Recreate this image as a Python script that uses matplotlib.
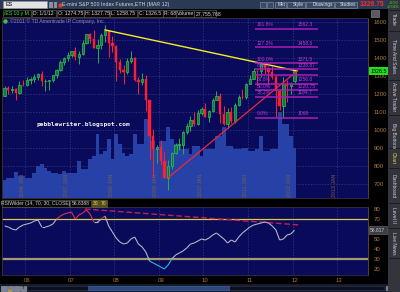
import numpy as np
import matplotlib
matplotlib.use("Agg")
import matplotlib.pyplot as plt
import matplotlib.transforms as mtransforms
from matplotlib.collections import LineCollection
from matplotlib.patches import Rectangle

# ---------------- data (monthly /ES, Jul 2005 .. Jan 2012) ----------------
opens = [1191, 1234, 1220, 1229, 1207, 1249,
         1248, 1280, 1281, 1295, 1311, 1270, 1270, 1277, 1304, 1336, 1378, 1401,
         1418, 1438, 1407, 1421, 1482, 1531, 1503, 1455, 1474, 1527, 1549, 1481,
         1468, 1379, 1331, 1323, 1386, 1400, 1280, 1267, 1283, 1166, 969, 896,
         903, 826, 735, 798, 873, 919, 919, 987, 1021, 1057, 1036, 1096,
         1115, 1074, 1104, 1169, 1187, 1089, 1031, 1102, 1049, 1141, 1183, 1181,
         1258, 1286, 1327, 1326, 1364, 1345, 1321, 1292, 1219, 1131, 1253, 1247,
         1274.75]
highs = [1246, 1245, 1243, 1233, 1270, 1276,
         1295, 1297, 1311, 1318, 1326, 1284, 1280, 1308, 1340, 1389, 1407, 1432,
         1441, 1462, 1438, 1499, 1535, 1541, 1556, 1503, 1539, 1586, 1555, 1524,
         1472, 1396, 1359, 1398, 1440, 1405, 1292, 1314, 1303, 1167, 1007, 918,
         943, 875, 832, 878, 930, 957, 996, 1039, 1080, 1101, 1113, 1130,
         1150, 1113, 1180, 1219, 1205, 1131, 1120, 1129, 1148, 1196, 1227, 1262,
         1303, 1344, 1333, 1366, 1370, 1346, 1357, 1308, 1230, 1293, 1278, 1269,
         1327.75]
lows = [1190, 1201, 1205, 1169, 1201, 1246,
        1245, 1253, 1268, 1280, 1245, 1219, 1224, 1264, 1290, 1327, 1360, 1385,
        1403, 1389, 1364, 1416, 1476, 1484, 1454, 1370, 1451, 1489, 1406, 1435,
        1270, 1316, 1256, 1311, 1373, 1272, 1200, 1248, 1106, 840, 741, 815,
        805, 735, 666, 783, 866, 888, 869, 979, 992, 1020, 1029, 1086,
        1071, 1045, 1102, 1165, 1040, 1029, 1011, 1040, 1040, 1131, 1173, 1174,
        1255, 1285, 1249, 1294, 1312, 1258, 1282, 1074, 1112, 1068, 1158, 1202,
        1258.75]
closes = [1234, 1220, 1229, 1207, 1249, 1248,
          1280, 1281, 1295, 1311, 1270, 1270, 1277, 1304, 1336, 1378, 1401, 1418,
          1438, 1407, 1421, 1482, 1531, 1503, 1455, 1474, 1527, 1549, 1481, 1468,
          1379, 1331, 1323, 1386, 1400, 1280, 1267, 1283, 1166, 969, 896, 903,
          826, 735, 798, 873, 919, 919, 987, 1021, 1057, 1036, 1096, 1115,
          1074, 1104, 1169, 1187, 1089, 1031, 1102, 1049, 1141, 1183, 1181, 1258,
          1286, 1327, 1326, 1364, 1345, 1321, 1292, 1219, 1131, 1253, 1247, 1258,
          1326.5]
volume_m = [9.7, 11.3, 11.3, 14.6, 11.9, 11.9,
            11.3, 10.8, 14.0, 17.8, 18.9, 16.7, 15.1, 14.0, 14.0, 13.5, 15.1, 14.0,
            14.0, 14.0, 20.5, 16.2, 16.2, 21.6, 23.2, 35.1, 24.3, 25.9, 32.4, 21.6,
            35.1, 29.7, 24.8, 23.2, 24.3, 35.1, 29.7, 29.7, 43.7, 35.6, 31.3, 27.0,
            31.3, 31.3, 39.4, 32.4, 29.7, 29.7, 27.0, 27.0, 24.3, 28.6, 28.6, 23.2,
            27.0, 27.0, 27.0, 34.0, 34.0, 38.9, 28.6, 28.6, 27.0, 27.0, 27.5, 27.5,
            25.9, 25.9, 27.0, 34.0, 25.9, 25.9, 27.0, 27.0, 47.5, 41.0, 41.0, 34.0,
            27.8]
rsi = [63, 62, 60, 59, 62, 64,
       65, 66, 68, 69, 62, 62, 63, 65, 70, 73, 75, 76,
       77, 70, 74, 76, 79, 75, 67, 67, 70, 73, 63, 57,
       51, 47, 45, 46, 50, 52, 45, 42, 37, 28, 26, 24,
       22, 20, 24, 30, 34, 36, 38, 41, 45, 46, 48, 50,
       49, 51, 54, 56, 53, 50, 46, 49, 47, 52, 56, 59,
       62, 64, 65, 66, 67, 66, 63, 59, 49, 50, 54, 55,
       58.8]
year_labels = ["06", "07", "08", "09", "10", "11", "12", "13"]
year_start_idx = [6, 18, 30, 42, 54, 66, 78, 90]
grid_labels = ["2006 JAN", "2007 JAN", "2008 JAN", "2009 JAN", "2010 JAN",
               "2011 JAN", "2012 JAN", "2013 JAN"]
price_ticks = [700, 800, 900, 1000, 1100, 1200, 1300, 1400, 1500, 1600]
rsi_ticks = [20, 30, 40, 50, 70, 80]
fib_pct = ["161.8%", "127.2%", "100.0%", "88.6%", "78.6%", "61.8%", "50.0%", "38.2%", "0.0%"]
fib_val = [1562.3, 1458.6, 1371.5, 1338.87, 1306.5, 1256.8, 1220.75, 1184.7, 1068]
fib_show = [True, True, True, True, False, True, True, True, True]
fib_span = [67.4, 84.3]
yellow_x, yellow_p = [27, 78.7], [1556, 1328]
red_x, red_p = [44, 78.7], [735, 1328]
rsi_div_x, rsi_div_v = [21.6, 79.5], [80, 64]
header_fields = [("/ES 10 y M", 3, 31), ("D: 1/1/12", 32, 56), ("O: 1274.75", 57, 84),
                 ("H: 1327.75", 84, 109), ("L: 1258.75", 110, 137), ("C: 1326.5", 138, 163),
                 ("R: 68", 163, 176), ("Volume", 176, 194), ("27,755,768", 194, 216)]

opens, highs, lows, closes = map(np.asarray, (opens, highs, lows, closes))
volume_m, rsi = np.asarray(volume_m), np.asarray(rsi, dtype=float)
n = len(closes)
x = np.arange(n)

plt.rcParams['font.family'] = ['Liberation Sans', 'DejaVu Sans']

W, H = 400, 292
fig = plt.figure(figsize=(4, 2.92), dpi=100, facecolor='#000000')
def rect(x0, y0, x1, y1):
    return [x0 / W, 1 - y1 / H, (x1 - x0) / W, (y1 - y0) / H]

NAVY = '#0a0a5a'
TAN = '#a87c44'
XLIM = (-0.7, 97.77)
PTOP, PBOT = 17.5, 198

# ---------------- main price panel ----------------
axv = fig.add_axes(rect(2, PTOP, 368, PBOT), zorder=1)
axv.set_facecolor(NAVY)
axv.bar(x, volume_m, width=1.0, color='#2641a8', linewidth=0)
axv.set_xlim(*XLIM); axv.set_ylim(0, 99.5)
axv.set_xticks([]); axv.set_yticks([])
for s in axv.spines.values():
    s.set_visible(False)

ax = fig.add_axes(rect(2, PTOP, 368, PBOT), zorder=2)
ax.set_facecolor('none')
ax.set_xlim(*XLIM); ax.set_ylim(622.2, 1625)
ax.set_yticks(price_ticks)
ax.yaxis.tick_right()
ax.tick_params(axis='y', colors=TAN, labelsize=4.3, length=0, pad=4)
ax.set_xticks([p - 0.5 for p in year_start_idx])
ax.tick_params(axis='x', length=0, labelbottom=False)
ax.grid(True, color='#3a3a82', lw=0.5, ls=(0, (2, 2)), zorder=0)
for s in ax.spines.values():
    s.set_color('#3a3040'); s.set_linewidth(0.6)
ax.spines['right'].set_color('#6a5030')

for lbl, p in zip(grid_labels, year_start_idx):
    ax.text(p - 0.6, 628, lbl, rotation=90, ha='right', va='bottom',
            fontsize=3.8, color='#7a6040', zorder=1, clip_on=True)

up = closes >= opens
wick_col = np.where(up, '#22b04a', '#ff2030')
ax.vlines(x, lows, highs, colors=wick_col, lw=0.7, zorder=3)
bb = np.minimum(opens, closes)
bh = np.maximum(np.abs(closes - opens), 1.5)
ax.bar(x[up], bh[up], bottom=bb[up], width=0.62, color='#137a33',
       edgecolor='#2fc35a', lw=0.5, zorder=4)
ax.bar(x[~up], bh[~up], bottom=bb[~up], width=0.62, color='#ff1e2e',
       edgecolor='#ff1e2e', lw=0.3, zorder=4)

ax.plot(yellow_x, yellow_p, color='#f2ee26', lw=1.0, zorder=5)
ax.plot(red_x, red_p, color='#f02838', lw=0.9, zorder=5)

for pct, val, show in zip(fib_pct, fib_val, fib_show):
    ax.plot(fib_span, [val, val], color='#a81fb0', lw=1.1, zorder=5, solid_capstyle='butt')
    if show:
        ax.text(fib_span[0] + 0.5, val + 8, pct, fontsize=3.6, color='#c23ad0',
                ha='left', va='bottom', zorder=6)
        ax.text(fib_span[0] + 11.4, val + 8, f"{val:g}", fontsize=3.6, color='#c23ad0',
                ha='left', va='bottom', zorder=6)

ax.text(8.45, 1033, "pebblewriter.blogspot.com", family='DejaVu Sans Mono',
        fontsize=4.4, color='#f4f4f4', fontweight='bold', ha='left', va='center', zorder=6)
cy = (PBOT - 21) / (PBOT - PTOP)
ax.text(0.021, cy, "\u00a92011 \u00a9 TD Ameritrade IP Company, Inc.", transform=ax.transAxes,
        fontsize=3.7, color='#8e8ea8', ha='left', va='center', zorder=6)
ax.plot([0.009], [cy], transform=ax.transAxes, marker='o', ms=2.2, color='#40c040',
        clip_on=False, zorder=6)

bt = mtransforms.blended_transform_factory(ax.transAxes, ax.transData)
ax.text(1.006, closes[-1], f"{closes[-1]:g}", transform=bt, fontsize=3.9, color='#000000',
        ha='left', va='center', zorder=7,
        bbox=dict(boxstyle='square,pad=0.25', fc='#22dd22', ec='#22dd22', lw=0))

# ---------------- RSI panel ----------------
ax2 = fig.add_axes(rect(2, 207, 368, 275), zorder=2)
ax2.set_facecolor(NAVY)
ax2.set_xlim(*XLIM); ax2.set_ylim(14, 82)
ax2.set_yticks(rsi_ticks)
ax2.yaxis.tick_right()
ax2.tick_params(axis='y', colors=TAN, labelsize=4.3, length=0, pad=4)
ax2.set_xticks([p - 0.5 for p in year_start_idx])
ax2.set_xticklabels([])
ax2.set_xticks(year_start_idx, minor=True)
ax2.set_xticklabels(year_labels, minor=True)
ax2.tick_params(axis='x', which='both', length=0, colors=TAN, labelsize=4.3, pad=2.5)
ax2.grid(True, axis='x', which='major', color='#3a3a82', lw=0.5, ls=(0, (2, 2)))
ax2.grid(False, axis='y')
for s in ax2.spines.values():
    s.set_color('#3a3040'); s.set_linewidth(0.6)
ax2.spines['right'].set_color('#6a5030')

ax2.axhline(70, color='#d8c84a', lw=0.9, zorder=2)
ax2.axhline(30, color='#a49a72', lw=1.6, zorder=2)
ax2.plot(rsi_div_x, rsi_div_v, color='#c4204e', lw=1.0, ls=(0, (4, 2)), zorder=3)

pts = np.column_stack([x, rsi])
segs = np.stack([pts[:-1], pts[1:]], axis=1)
mid = (rsi[:-1] + rsi[1:]) / 2
seg_cols = ['#e0304a' if m > 70 else ('#20c0d4' if m < 30 else '#b4b4c8') for m in mid]
ax2.add_collection(LineCollection(segs, colors=seg_cols, linewidths=0.8, zorder=4))
bt2 = mtransforms.blended_transform_factory(ax2.transAxes, ax2.transData)
ax2.text(1.006, rsi[-1], "58.817", transform=bt2, fontsize=3.6, color='#c8c8c8',
         ha='left', va='center', zorder=7,
         bbox=dict(boxstyle='square,pad=0.25', fc='#3c3c44', ec='#707070', lw=0.4))

# ---------------- window chrome ----------------
ov = fig.add_axes([0, 0, 1, 1], zorder=10)
ov.set_xlim(0, W); ov.set_ylim(H, 0); ov.axis('off')
ov.patch.set_alpha(0)
def box(x0, y0, x1, y1, fc, ec='none', lw=0.4):
    ov.add_patch(Rectangle((x0, y0), x1 - x0, y1 - y0, fc=fc, ec=ec, lw=lw))

# top toolbar
box(0, 0, 388, 9.3, '#2a3a55')
box(3, 1.3, 47, 8.2, '#e2e2e2', '#9090a0')
ov.text(5, 4.9, "ES", fontsize=3.9, color='#000000', va='center')
box(48.5, 2, 52.5, 7.5, '#8890a0'); box(53.5, 2, 57, 7.5, '#8890a0')
ov.plot([59.5], [4.8], marker='o', ms=2.2, color='#e04020')
ov.text(62, 4.9, "E-mini S&P 500 Index Futures,ETH (MAR 12)", fontsize=3.8,
        color='#d4d4dc', va='center')
for bx0, bx1, t in [(260, 266, ""), (267, 273, ""), (275, 286, "Mkt"), (287, 305, "Style"),
                    (306, 334, "Drawings"), (335, 357, "Studies")]:
    box(bx0, 1.5, bx1, 8, '#3a4964', '#8a98b0')
    if t:
        ov.text(bx1 - 1, 4.9, t, fontsize=3.5, color='#e0e0e8', va='center', ha='right')
ov.text(371.5, 4.8, "1326.75", fontsize=4.9, color='#ff2a2a', fontweight='bold',
        va='center', ha='center')
ov.text(393.5, 2.5, "+0.50", fontsize=2.7, color='#40e040', va='center', ha='center')
ov.text(393.5, 6.8, "+0.04%", fontsize=2.7, color='#40e040', va='center', ha='center')

# data header row
box(0, 9.3, 388, PTOP, '#000000')
for i, (t, x0, x1) in enumerate(header_fields):
    box(x0, 9.8, x1, 16.8, '#060606', '#6a6a6a')
    ov.text(x0 + 1.3, 13.4, t, fontsize=3.7, color='#40e040' if i == 0 else '#d8d8d8',
            va='center', ha='left')
box(371, 10, 378.5, 16.8, '#5a5a62', '#909098')

# RSI header strip
box(0, 198.5, 370, 207, '#000000')
for t, x0, x1, fc, tc in [("RSIWilder (14, 70, 30, CLOSE)", 2, 69, '#080808', '#c8c8c8'),
                           ("58.8388", 70, 91, '#080808', '#c8c8c8'),
                           ("30", 92, 99, '#5a4e10', '#f0e040'),
                           ("70", 100, 107, '#5a4e10', '#f0e040')]:
    box(x0, 199.5, x1, 206.5, fc, '#6a6a6a')
    ov.text((x0 + x1) / 2, 203.1, t, fontsize=3.6, color=tc, va='center', ha='center')

# scrollbar
box(0, 284, 388, 292, '#161c2a')
for bx in [1, 7.5, 14, 20.5]:
    box(bx, 285.5, bx + 5.5, 290.5, '#7a8294', '#a0a8b8')
ov.text(23.2, 288.1, "T", fontsize=3, color='#000000', ha='center', va='center')
box(27, 286, 384, 290, '#0a1020', '#303a50')
box(88, 286, 229, 290, '#28487e', '#4a6aa0')
box(385.5, 285.5, 391, 290.5, '#7a8294'); box(391.5, 285.5, 397, 290.5, '#7a8294')
box(8, 289.5, 12, 292, '#b09a30')

# right tab strip
box(388, 0, 400, 292, '#34343c')
tabs = [("Trade", 19), ("Time And Sales", 56), ("Active Trader", 97), ("Big Buttons", 136),
        ("Chart", 158), ("Dashboard", 186), ("Level II", 215), ("Live News", 243)]
for t, yc in tabs:
    ov.text(393.5, yc, t, rotation=270, fontsize=3.5,
            color='#f0d040' if t == "Chart" else '#d0d0d8', ha='center', va='center')
for yb in [10, 31, 80, 115, 148, 168, 203, 228, 258]:
    ov.plot([388.5, 399.5], [yb, yb], color='#18181c', lw=0.6)

fig.savefig("out.png", dpi=100, facecolor=fig.get_facecolor())
